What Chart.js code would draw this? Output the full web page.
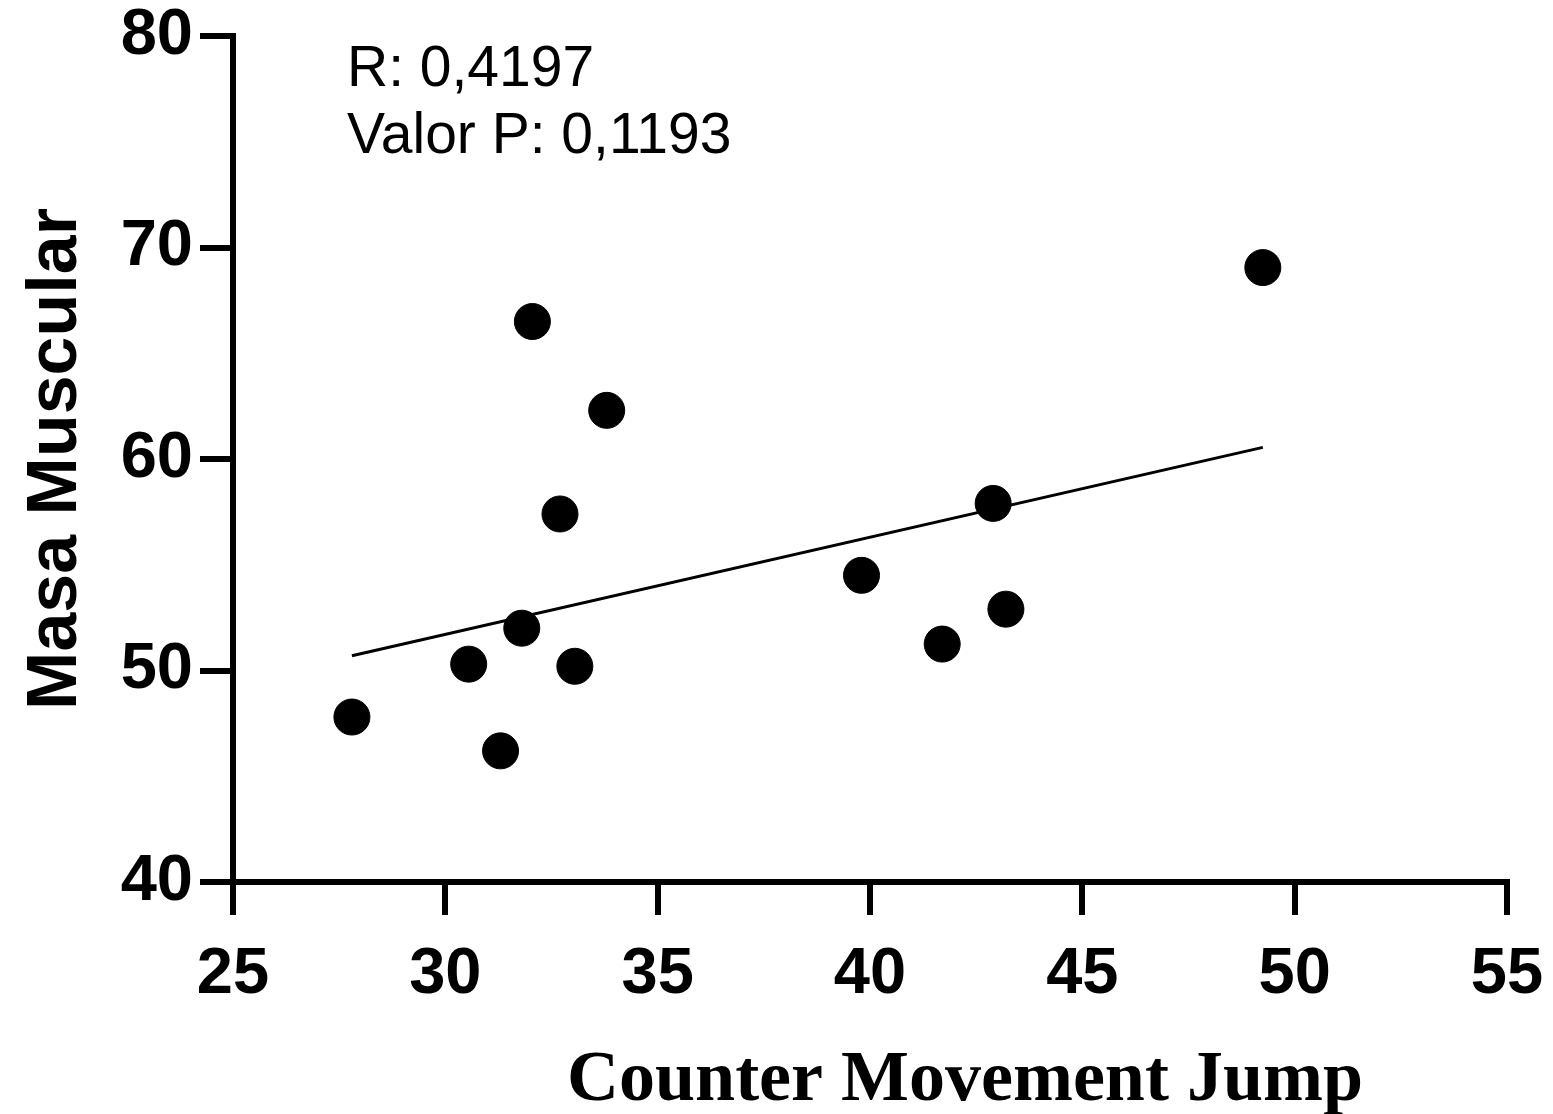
<!DOCTYPE html>
<html>
<head>
<meta charset="utf-8">
<script src="https://cdn.jsdelivr.net/npm/chart.js@4"></script>
<style>
    html, body { margin: 0; padding: 0; background: #fff; }
    #wrap { width: 1553px; height: 1114px; }
</style>
</head>
<body>
<div id="wrap"><canvas id="scatterChart" width="1553" height="1114"></canvas></div>
<script>
        // values
        let cmjValues  = [27.8, 31.3, 30.55, 31.8, 33.05, 32.7, 32.05, 33.8, 39.8, 41.7, 42.9, 43.2, 49.25];
        let masaValues = [47.8, 46.2, 50.3, 52.0, 50.2, 57.4, 66.5, 62.3, 54.5, 51.25, 57.9, 52.9, 69.05];
        let fitX = [27.8, 49.25];
        let fitY = [50.7, 60.55];
        let xTicks = [25, 30, 35, 40, 45, 50, 55];
        let yTicks = [40, 50, 60, 70, 80];
        let statsLines = ["R: 0,4197", "Valor P: 0,1193"];
        let xTitle = "Counter Movement Jump";
        let yTitle = "Masa Muscular";

        let points = cmjValues.map((x, i) => ({ x: x, y: masaValues[i] }));
        let fitLine = fitX.map((x, i) => ({ x: x, y: fitY[i] }));

        let tickFont = { family: "Liberation Sans, Arial, sans-serif", size: 65, weight: "bold", lineHeight: 1 };

        // text that chart.js can't place where the original has it
        let extraText = {
            id: "extraText",
            afterDraw(chart) {
                let ctx = chart.ctx;
                let area = chart.chartArea;
                ctx.save();
                ctx.fillStyle = "#000";
                ctx.textAlign = "left";
                ctx.textBaseline = "alphabetic";
                ctx.font = "57px 'Liberation Sans', Arial, sans-serif";
                statsLines.forEach((line, i) => {
                    ctx.fillText(line, area.left + 114, area.top + 50 + i * 67);
                });
                ctx.textAlign = "center";
                ctx.font = "bold 72px 'Liberation Serif', 'Times New Roman', serif";
                ctx.fillText(xTitle, area.left + (area.right - area.left) / 2 + 95, 1100);
                ctx.restore();
            }
        };

        let ctx = document.getElementById("scatterChart").getContext("2d");

        let chart = new Chart(ctx, {
            type: "scatter",
            data: {
                datasets: [
                    {
                        label: "Datos",
                        data: points,
                        backgroundColor: "#000",
                        borderColor: "#000",
                        pointRadius: 18,
                        pointHoverRadius: 18,
                        clip: false
                    },
                    {
                        type: "line",
                        label: "Regresión",
                        data: fitLine,
                        borderColor: "#000",
                        borderWidth: 3,
                        pointRadius: 0,
                        fill: false
                    }
                ]
            },
            options: {
                responsive: false,
                animation: false,
                events: [],
                layout: { padding: { top: 36, right: 46, bottom: 0, left: 0 } },
                plugins: {
                    legend: { display: false },
                    tooltip: { enabled: false }
                },
                scales: {
                    x: {
                        type: "linear",
                        position: "bottom",
                        min: xTicks[0],
                        max: xTicks[xTicks.length - 1],
                        afterFit: (scale) => {
                            scale.height = 232;
                            scale.paddingLeft = 0;
                            scale.paddingRight = 0;
                        },
                        ticks: { stepSize: xTicks[1] - xTicks[0], color: "#000", font: tickFont, padding: 28 },
                        grid: { drawOnChartArea: false, tickLength: 33, tickWidth: 6, lineWidth: 6, tickColor: "#000", color: "#000" },
                        border: { color: "#000", width: 6 }
                    },
                    y: {
                        type: "linear",
                        position: "left",
                        min: yTicks[0],
                        max: yTicks[yTicks.length - 1],
                        afterFit: (scale) => {
                            scale.width = 233;
                            scale.paddingTop = 0;
                            scale.paddingBottom = 0;
                        },
                        ticks: { stepSize: yTicks[1] - yTicks[0], color: "#000", font: tickFont, padding: 7 },
                        grid: { drawOnChartArea: false, tickLength: 33, tickWidth: 6, lineWidth: 6, tickColor: "#000", color: "#000" },
                        border: { color: "#000", width: 6 },
                        title: {
                            display: true,
                            text: yTitle,
                            color: "#000",
                            font: { family: "Liberation Sans, Arial, sans-serif", size: 70, weight: "bold", lineHeight: 1 },
                            padding: { top: 22, bottom: 0 }
                        }
                    }
                }
            },
            plugins: [extraText]
        });
</script>
</body>
</html>
